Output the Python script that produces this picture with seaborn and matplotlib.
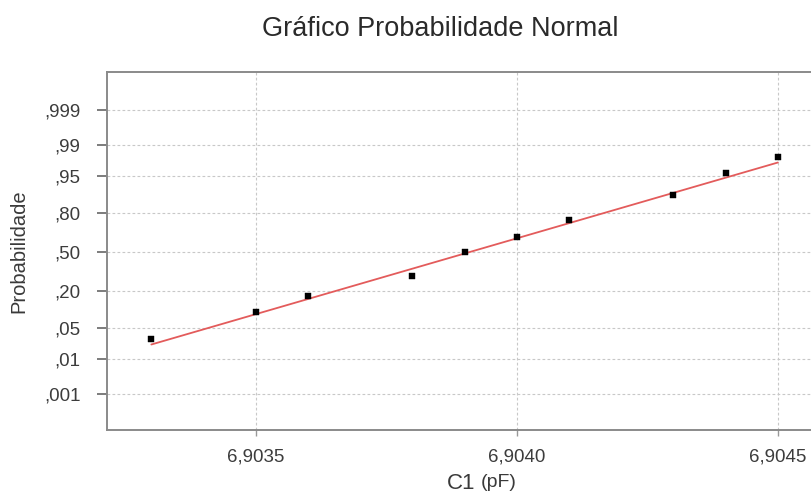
import matplotlib
matplotlib.use("Agg")
import matplotlib.pyplot as plt
import seaborn as sns
import pandas as pd
from statistics import NormalDist

# ---- data ----
c1_values = [6.9033, 6.9035, 6.9036, 6.9038, 6.9039, 6.9040, 6.9041, 6.9043, 6.9044, 6.9045]
probabilities = [0.029, 0.095, 0.171, 0.301, 0.497, 0.630, 0.759, 0.893, 0.958, 0.981]
fit_mu = 6.90391
fit_sigma = 0.000303
y_tick_probs = [0.001, 0.01, 0.05, 0.20, 0.50, 0.80, 0.95, 0.99, 0.999]
y_tick_labels = [",001", ",01", ",05", ",20", ",50", ",80", ",95", ",99", ",999"]
x_ticks = [6.9035, 6.9040, 6.9045]
x_tick_labels = ["6,9035", "6,9040", "6,9045"]
title = "Gráfico Probabilidade Normal"
y_label = "Probabilidade"

nd = NormalDist()
df = pd.DataFrame({"x": c1_values, "z": [nd.inv_cdf(p) for p in probabilities]})
fit_x = [min(c1_values), max(c1_values)]
fit_df = pd.DataFrame({"x": fit_x, "z": [(v - fit_mu) / fit_sigma for v in fit_x]})

sns.set_theme(style="white")
plt.rcParams["font.family"] = ["Liberation Sans", "DejaVu Sans"]

fig = plt.figure(figsize=(8.11, 4.95), dpi=100)
ax = fig.add_axes([107 / 811, 65 / 495, 710 / 811, 358 / 495])

sns.lineplot(data=fit_df, x="x", y="z", ax=ax, color="#e35b5b", linewidth=1.3, zorder=3)
sns.scatterplot(data=df, x="x", y="z", ax=ax, color="black", marker="s", s=18,
                edgecolor="black", linewidth=0.3, zorder=4)

ax.set_xlim(6.903215, 6.904575)
ax.set_ylim(-3.874, 3.917)

ax.set_yticks([nd.inv_cdf(p) for p in y_tick_probs])
ax.set_yticklabels(y_tick_labels)
ax.set_xticks(x_ticks)
ax.set_xticklabels(x_tick_labels)

ax.grid(True, color="#c8c8c8", linestyle=(0, (2.5, 2)), linewidth=0.8)
ax.set_axisbelow(True)

for s in ax.spines.values():
    s.set_color("#8a8a8a")
    s.set_linewidth(1.4)

ax.tick_params(axis="y", left=True, length=7, width=1.2, color="#666666", pad=12,
               labelsize=13.5, labelcolor="#3c3c3c")
ax.tick_params(axis="x", bottom=True, length=4, width=1.0, color="#999999", pad=9,
               labelsize=13.5, labelcolor="#3c3c3c")

ax.set_xlabel("")
ax.set_ylabel("")

fig.text(440 / 811, 1 - 29 / 495, title, ha="center", va="center", fontsize=19.5, color="#2a2a2a")
fig.text(19 / 811, 1 - 251 / 495, y_label, ha="center", va="center", rotation=90,
         fontsize=14.5, color="#3a3a3a")
fig.text(447 / 811, 1 - 489 / 495, "C1", ha="left", va="baseline", fontsize=16, color="#3a3a3a")
fig.text(481 / 811, 1 - 487 / 495, "(pF)", ha="left", va="baseline", fontsize=14, color="#3a3a3a")

fig.savefig("out.png", dpi=100)
